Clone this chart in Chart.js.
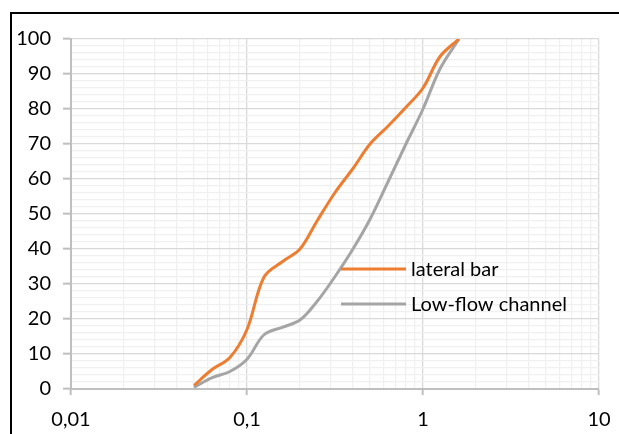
<!DOCTYPE html>
<html>
<head>
<meta charset="utf-8">
<script src="https://cdn.jsdelivr.net/npm/chart.js@4.4.1/dist/chart.umd.min.js"></script>
<style>
    html, body { margin: 0; padding: 0; background: #fff; overflow: hidden; }
    #wrap { position: relative; width: 619px; height: 434px; }
    #frame { position: absolute; left: 10px; top: 12px; width: 700px; height: 500px; border: 2px solid #000; }
    canvas { position: absolute; left: 0; top: 0; }
</style>
</head>
<body>
<div id="wrap">
    <div id="frame"></div>
    <canvas id="chart" width="619" height="434"></canvas>
</div>
<script>
// grain size (mm) and cumulative % passing
const sieveSizes = [0.05, 0.063, 0.08, 0.1, 0.125, 0.16, 0.2, 0.25, 0.315, 0.4, 0.5, 0.63, 0.8, 1, 1.25, 1.6];
const lateralBar = [1, 5.5, 9, 17, 32, 36.5, 40, 48, 56, 63, 70, 75, 80.5, 86, 95, 100];
const lowFlowChannel = [0.5, 3.2, 5, 8.5, 15.5, 17.7, 19.7, 25, 32, 40, 48.5, 59, 70, 80, 91.5, 100];

const seriesNames = ['lateral bar', 'Low-flow channel'];
const seriesColors = ['#ED7D31', '#A5A5A5'];

const xMajorTicks = [0.01, 0.1, 1, 10];
const xTickLabels = ['0,01', '0,1', '1', '10'];

const FONT = { family: 'Lato', size: 20 };

const isMajorLog = (v) => Math.abs(Math.log10(v) - Math.round(Math.log10(v))) < 1e-6;

function logTicks() {
    const ticks = [];
    for (let i = 0; i < xMajorTicks.length; i++) {
        const base = xMajorTicks[i];
        ticks.push({ value: base });
        if (i < xMajorTicks.length - 1) {
            for (let m = 2; m <= 9; m++) ticks.push({ value: +(base * m).toPrecision(3) });
        }
    }
    return ticks;
}

// draws the legend inside the plot, like the Excel original
const insideLegend = {
    id: 'insideLegend',
    afterDraw(chart) {
        const { ctx, chartArea } = chart;
        ctx.save();
        ctx.font = `${FONT.size}px ${FONT.family}`;
        ctx.textBaseline = 'middle';
        ctx.fillStyle = '#000';
        chart.data.datasets.forEach((ds, i) => {
            const y = chartArea.top + 230 + i * 35;
            const x = chartArea.left + 270;
            ctx.strokeStyle = ds.borderColor;
            ctx.lineWidth = 3;
            ctx.beginPath();
            ctx.moveTo(x, y);
            ctx.lineTo(x + 65, y);
            ctx.stroke();
            ctx.fillText(ds.label, x + 70, y + 1);
        });
        ctx.restore();
    }
};

const toPoints = (vals) => vals.map((v, i) => ({ x: sieveSizes[i], y: v }));

new Chart(document.getElementById('chart').getContext('2d'), {
    type: 'line',
    plugins: [insideLegend],
    data: {
        datasets: [lateralBar, lowFlowChannel].map((vals, i) => ({
            label: seriesNames[i],
            data: toPoints(vals),
            borderColor: seriesColors[i],
            backgroundColor: seriesColors[i],
            borderWidth: 3,
            pointRadius: 0,
            tension: 0.35,
            fill: false
        }))
    },
    options: {
        responsive: false,
        animation: false,
        layout: { padding: { left: 0, top: 39, right: 20, bottom: 0 } },
        plugins: {
            legend: { display: false },
            tooltip: { enabled: false }
        },
        scales: {
            x: {
                type: 'logarithmic',
                min: 0.01,
                max: 10,
                afterBuildTicks: (scale) => { scale.ticks = logTicks(); },
                afterFit: (scale) => {
                    scale.height = 45;
                    scale.paddingLeft = 0;
                    scale.paddingRight = 0;
                },
                ticks: {
                    autoSkip: false,
                    maxRotation: 0,
                    color: '#000',
                    font: FONT,
                    padding: 13,
                    callback: (v) => {
                        const idx = xMajorTicks.findIndex(t => Math.abs(t - v) < 1e-9);
                        return idx >= 0 ? xTickLabels[idx] : '';
                    }
                },
                grid: {
                    color: (c) => isMajorLog(c.tick.value) ? '#d9d9d9' : '#f0f0f0',
                    lineWidth: 1.3,
                    tickLength: 6,
                    tickColor: (c) => isMajorLog(c.tick.value) ? '#bfbfbf' : 'rgba(0,0,0,0)',
                    tickWidth: 2
                },
                border: { color: '#bfbfbf', width: 2 }
            },
            y: {
                min: 0,
                max: 100,
                afterFit: (scale) => { scale.width = 71; },
                ticks: {
                    stepSize: 2,
                    autoSkip: false,
                    color: '#000',
                    font: FONT,
                    padding: 12,
                    callback: (v) => v % 10 === 0 ? v : ''
                },
                grid: {
                    color: (c) => c.tick.value % 10 === 0 ? '#d9d9d9' : '#f0f0f0',
                    lineWidth: 1.3,
                    tickLength: 8,
                    tickColor: (c) => c.tick.value % 10 === 0 ? '#bfbfbf' : 'rgba(0,0,0,0)',
                    tickWidth: 2
                },
                border: { color: '#bfbfbf', width: 2 }
            }
        }
    }
});
</script>
</body>
</html>
